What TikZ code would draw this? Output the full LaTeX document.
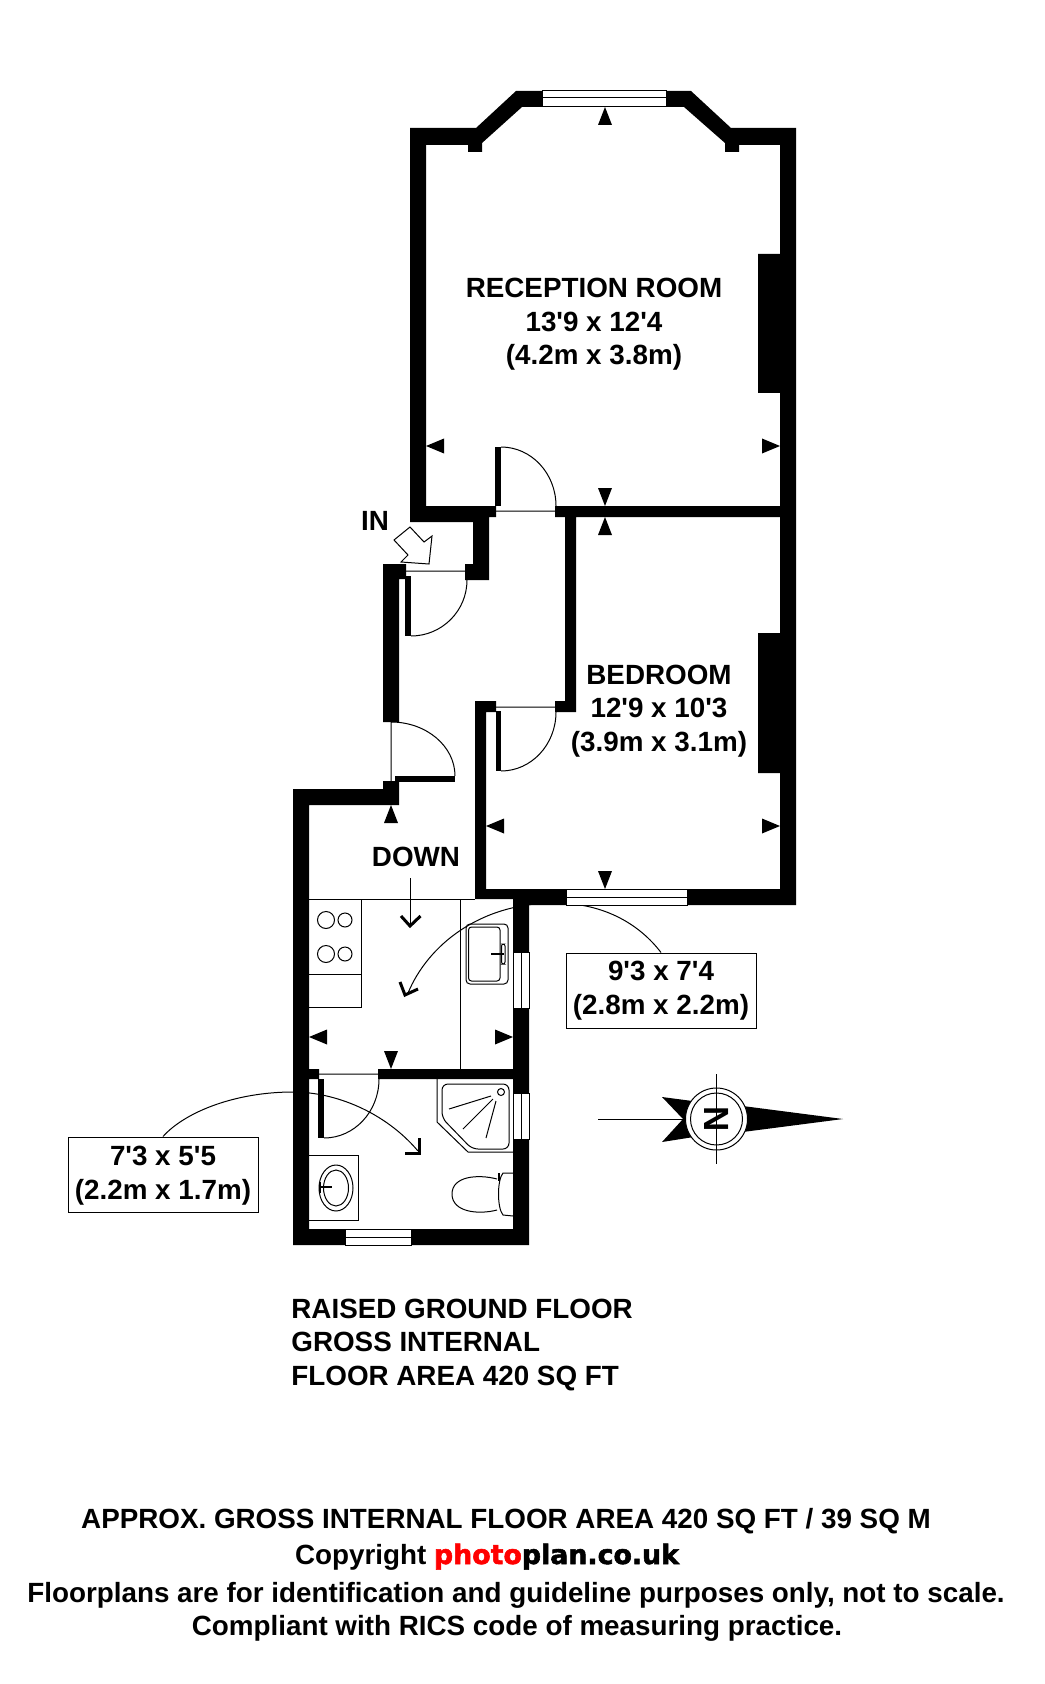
\documentclass[tikz,border=0pt]{standalone}
\usepackage{fontspec}
\newfontfamily\planfont{Liberation Sans}
\newfontfamily\logofont{DejaVu Sans}[BoldFeatures={FakeBold=2}]
\definecolor{logored}{RGB}{255,0,0}
\tikzset{
  thinline/.style={line width=.5pt},
  tickline/.style={line width=1.5pt},
  roomlabel/.style={font=\planfont\fontsize{13.9}{16.75}\selectfont\bfseries, align=center, inner sep=0pt},
  sizebox/.style={roomlabel, draw, fill=white, line width=.5pt},
  notelabel/.style={roomlabel, align=left, anchor=base west},
  footlabel/.style={roomlabel, anchor=base}
}

\begin{document}
\begin{tikzpicture}[x=.5pt, y=-.5pt]
  \useasboundingbox (0,0) rectangle (1044,1684);

  % size boxes and the leaders under the walls
  \node[sizebox, text depth=2.5pt, minimum width=95pt, minimum height=37.5pt] (kitchensize) at (661,990.5) {9'3 x 7'4\\(2.8m x 2.2m)};
  \node[sizebox, text depth=1.5pt, minimum width=95pt, minimum height=37.5pt] (bathsize) at (163,1174.5) {7'3 x 5'5\\(2.2m x 1.7m)};
  \coordinate (kitchenend) at (408,993);
  \coordinate (bathend) at (418,1151);
  \draw[thinline] (kitchensize.north) .. controls (640,925) and (605,903) .. (555,903)
    .. controls (480,903) and (428,945) .. (kitchenend);
  \draw[thinline] (bathsize.north) .. controls (185,1112) and (235,1092) .. (293,1092)
    .. controls (335,1092) and (385,1112) .. (bathend);

  % walls
  \fill (410,128) -- (476,128) -- (516,91) -- (542,91) -- (542,107) -- (522,107) -- (482,143)
    -- (482,152) -- (468,152) -- (468,145) -- (426,145) -- (426,506) -- (496,506) -- (496,517)
    -- (489,517) -- (489,580) -- (465,580) -- (465,564) -- (473,564) -- (473,522) -- (410,522) -- cycle;
  \fill (666,91) -- (691,91) -- (731,128) -- (796,128) -- (796,905) -- (687,905) -- (687,889)
    -- (780,889) -- (780,773) -- (758,773) -- (758,633) -- (780,633) -- (780,517) -- (576,517)
    -- (576,712) -- (555,712) -- (555,701) -- (565,701) -- (565,517) -- (555,517) -- (555,506)
    -- (780,506) -- (780,393) -- (758,393) -- (758,254) -- (780,254) -- (780,145) -- (739,145)
    -- (739,152) -- (725,152) -- (725,143) -- (684,107) -- (666,107) -- cycle;
  \fill (496,701) -- (475,701) -- (475,899) -- (513,899) -- (513,952) -- (529,952) -- (529,905)
    -- (566,905) -- (566,889) -- (486,889) -- (486,712) -- (496,712) -- cycle;
  \fill (383,564) -- (406,564) -- (406,579) -- (399,579) -- (399,722) -- (383,722) -- cycle;
  \fill (383,781) -- (399,781) -- (399,805) -- (309,805) -- (309,1069) -- (319,1069) -- (319,1079)
    -- (309,1079) -- (309,1229) -- (345,1229) -- (345,1245) -- (293,1245) -- (293,789) -- (383,789) -- cycle;
  \fill (378,1069) -- (513,1069) -- (513,1008) -- (529,1008) -- (529,1093) -- (513,1093)
    -- (513,1079) -- (378,1079) -- cycle;
  \fill (513,1139) -- (529,1139) -- (529,1245) -- (411,1245) -- (411,1229) -- (513,1229) -- cycle;

  % windows
  \draw[thinline, fill=white] (542,91) rectangle (666,107) (542,98) -- (666,98);
  \draw[thinline, fill=white] (566,889) rectangle (687,905) (566,897) -- (687,897);
  \draw[thinline, fill=white] (345,1229) rectangle (411,1245) (345,1237) -- (411,1237);
  \draw[thinline, fill=white] (513,952) rectangle (529,1008) (521,952) -- (521,1008);
  \draw[thinline, fill=white] (513,1093) rectangle (529,1139) (521,1093) -- (521,1139);

  % doors
  \fill (495,447) rectangle (501,506);
  \draw[thinline] (496,511) -- (555,511) (556,506) arc (0:-90:55 and 59);
  \fill (405,576) rectangle (411,636);
  \draw[thinline] (406,571) -- (465,571) (467,580) arc (0:90:56);
  \fill (496,711) rectangle (501,771);
  \draw[thinline] (496,707) -- (555,707) (556,712) arc (0:90:55 and 59);
  \fill (395,776) rectangle (455,782);
  \draw[thinline] (391,722) -- (391,781) (391,722) arc (-90:0:64 and 54);
  \fill (318,1079) rectangle (324,1138);
  \draw[thinline] (319,1074) -- (378,1074) (379,1079) arc (0:90:55 and 59);

  % dimension marks
  \foreach \x/\y in {605/107,605/517,391/805}
    \fill (\x,\y) -- ++(-7,18) -- ++(14,0) -- cycle;
  \foreach \x/\y in {605/506,605/889,391/1069}
    \fill (\x,\y) -- ++(-7,-18) -- ++(14,0) -- cycle;
  \foreach \x/\y in {426/446,486/826,309/1037}
    \fill (\x,\y) -- ++(18,-7.5) -- ++(0,15) -- cycle;
  \foreach \x/\y in {780/446,780/826,513/1037}
    \fill (\x,\y) -- ++(-18,-7.5) -- ++(0,15) -- cycle;

  % kitchen
  \draw[thinline] (309,899) -- (475,899) (361,899) -- (361,1007) -- (309,1007) (309,974) -- (361,974)
    (460,899) -- (460,1069);
  \draw[thinline] (326,920) circle (8.5) (345,920) circle (7) (326,954) circle (8.5) (345,954) circle (7);
  \draw[thinline, rounded corners=2pt] (466,924) rectangle (508,984);
  \draw[thinline, rounded corners=1.5pt] (468.5,927) rectangle (500,981);
  \draw[line width=1pt] (491,954) -- (504,954);
  \draw[thinline, rounded corners=1pt] (501.5,944) rectangle (505,964);

  % stairs
  \coordinate (stairtop) at (410,878);
  \coordinate (stairend) at (410,926);
  \draw[thinline] (stairtop) -- (stairend);
  \draw[tickline] (401,916) -- (stairend) -- (420.5,916);
  \draw[tickline] (400,982) -- (405,995) -- (418,989);
  \draw[tickline] (bathend) ++(1,-13) -- ++(0,15) -- ++(-14,0);

  % bathroom
  \draw[thinline] (437,1079) -- (437,1122) -- (468,1152) -- (513,1152);
  \draw[thinline, rounded corners=3pt] (442,1118) -- (442,1084) -- (509,1084) -- (509,1149) -- (472,1149) -- cycle;
  \draw[thinline] (501,1092) circle (3.5);
  \draw[thinline] (491,1096) -- (449,1109) (493,1099) -- (463,1129) (496,1101) -- (486,1138);
  \draw[thinline] (309,1155) -- (358,1155) -- (358,1220) -- (309,1220);
  \draw[thinline] (336,1188) ellipse (17 and 23) (336,1188) ellipse (12.5 and 18);
  \draw[line width=1pt] (321,1187) -- (332,1187) (320,1182) -- (320,1193);
  \draw[thinline] (513,1173) -- (503,1173) .. controls (497,1180) and (497,1208) .. (503,1215) -- (513,1216);
  \draw[thinline] (497,1179) .. controls (478,1174) and (452,1176) .. (452,1194)
    .. controls (452,1212) and (478,1215) .. (497,1210);
  \draw[line width=1pt] (498.5,1173) -- (498.5,1181);

  % entrance
  \draw[thinline, fill=white] (429,564) -- (432,536) -- (424,542) -- (410,527) -- (394,540) -- (408,555) -- (401,562) -- cycle;

  % compass
  \coordinate (needle) at (716.5,1119);
  \fill (662,1097) -- (700,1102) -- (700,1136) -- (662,1142) -- (683,1119) -- cycle;
  \fill (735,1105) -- (843,1119) -- (735,1133) -- cycle;
  \draw[thinline] (598,1119) -- (686,1119);
  \draw[thinline, fill=white] (needle) circle (31);
  \draw[thinline] (needle) circle (26);
  \draw[thinline] (716.5,1074) -- (716.5,1164);
  \node[font=\planfont\fontsize{17.5}{17.5}\selectfont\bfseries, rotate=-90, inner sep=0pt] (northmark) at (needle) {N};

  % labels
  \node[roomlabel] (reception) at (594,324.5) {RECEPTION ROOM\\13'9 x 12'4\\(4.2m x 3.8m)};
  \node[roomlabel] (bedroom) at (659,711) {BEDROOM\\12'9 x 10'3\\(3.9m x 3.1m)};
  \node[roomlabel] (inlabel) at (375,520.5) {IN};
  \node[roomlabel] (downlabel) at (416,857) {DOWN};
  \node[notelabel] (floorname) at (291,1318) {RAISED GROUND FLOOR};
  \node[notelabel] (floorgross) at (291,1351) {GROSS INTERNAL};
  \node[notelabel] (floorarea) at (291,1385) {FLOOR AREA 420 SQ FT};
  \node[footlabel] (approx) at (506,1528) {APPROX. GROSS INTERNAL FLOOR AREA 420 SQ FT / 39 SQ M};
  \node[footlabel] (copyright) at (487,1564) {Copyright {\logofont\fontsize{13.4}{16}\selectfont\textcolor{logored}{photo}plan.co.uk}};
  \node[footlabel] (disclaimer) at (516,1602) {Floorplans are for identification and guideline purposes only, not to scale.};
  \node[footlabel] (compliant) at (517,1635.5) {Compliant with RICS code of measuring practice.};
\end{tikzpicture}
\end{document}
